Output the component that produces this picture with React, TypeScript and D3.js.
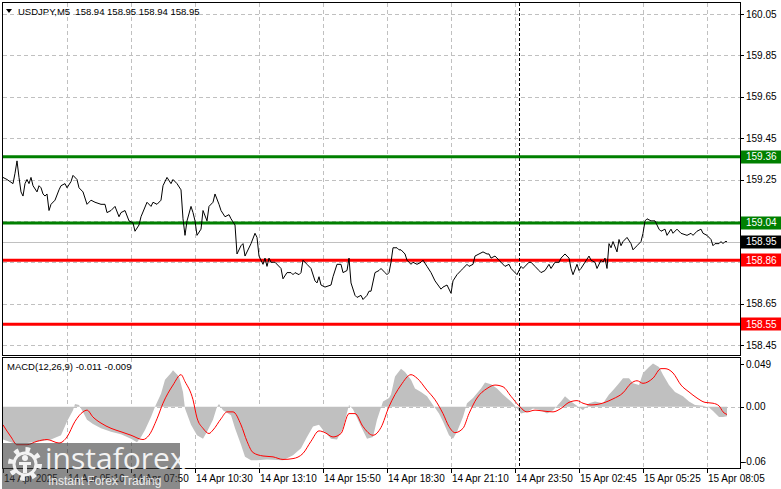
import React from "react";
import * as d3 from "d3";

const W = 781;
const H = 489;
const FONT = "'Liberation Sans', Arial, sans-serif";

// USDJPY M5 closes, [bar index, price]
const price: [number, number][] = [
  [0, 159.26], [2, 159.25], [5, 159.23], [6, 159.28], [7, 159.34], [8, 159.26], [9, 159.19], [10, 159.17],
  [11, 159.23], [12, 159.25], [13, 159.23], [14, 159.26], [15, 159.22], [17, 159.19], [18, 159.22], [19, 159.21],
  [20, 159.18], [21, 159.17], [22, 159.18], [23, 159.1], [24, 159.13], [26, 159.15], [28, 159.2], [29, 159.22],
  [31, 159.23], [32, 159.21], [34, 159.24], [35, 159.27], [37, 159.25], [38, 159.21], [40, 159.19], [42, 159.13],
  [44, 159.15], [46, 159.14], [49, 159.13], [51, 159.13], [52, 159.09], [54, 159.1], [56, 159.12], [58, 159.07],
  [59, 159.09], [61, 159.1], [63, 159.05], [65, 159.04], [66, 159.0], [68, 159.03], [69, 159.07], [72, 159.14],
  [74, 159.12], [75, 159.14], [77, 159.13], [79, 159.15], [80, 159.22], [82, 159.26], [84, 159.23], [85, 159.25],
  [87, 159.23], [89, 159.2], [90, 159.06], [91, 158.98], [92, 159.05], [94, 159.12], [95, 159.09], [96, 159.05],
  [97, 158.98], [99, 159.01], [100, 159.1], [102, 159.05], [103, 159.12], [105, 159.14], [106, 159.18], [108, 159.13],
  [109, 159.1], [111, 159.07], [113, 159.08], [114, 159.06], [116, 159.03], [117, 158.89], [119, 158.93], [120, 158.94],
  [121, 158.88], [124, 158.94], [126, 158.99], [127, 158.97], [128, 158.88], [129, 158.86], [130, 158.84], [131, 158.87],
  [132, 158.83], [133, 158.87], [134, 158.85], [136, 158.85], [139, 158.82], [140, 158.77], [142, 158.8], [144, 158.8],
  [145, 158.79], [146, 158.8], [148, 158.79], [149, 158.8], [150, 158.86], [152, 158.84], [154, 158.82], [156, 158.76],
  [157, 158.75], [158, 158.78], [159, 158.74], [161, 158.73], [164, 158.74], [165, 158.78], [167, 158.84], [169, 158.84],
  [170, 158.8], [172, 158.81], [173, 158.87], [174, 158.75], [176, 158.69], [177, 158.68], [179, 158.69], [180, 158.67],
  [182, 158.69], [183, 158.71], [184, 158.71], [186, 158.8], [188, 158.81], [189, 158.82], [191, 158.8], [192, 158.79],
  [193, 158.8], [194, 158.85], [195, 158.92], [197, 158.92], [198, 158.91], [199, 158.91], [201, 158.89], [202, 158.86],
  [204, 158.84], [205, 158.85], [207, 158.84], [209, 158.85], [210, 158.86], [212, 158.83], [214, 158.8], [216, 158.76],
  [219, 158.72], [220, 158.73], [222, 158.74], [224, 158.7], [225, 158.76], [227, 158.79], [229, 158.81], [230, 158.82],
  [232, 158.84], [233, 158.83], [235, 158.84], [236, 158.88], [238, 158.89], [240, 158.9], [242, 158.89], [243, 158.89],
  [244, 158.87], [246, 158.88], [248, 158.86], [249, 158.85], [251, 158.83], [253, 158.84], [254, 158.82], [257, 158.79],
  [259, 158.83], [260, 158.82], [263, 158.85], [264, 158.85], [266, 158.83], [268, 158.81], [269, 158.8], [271, 158.81],
  [273, 158.84], [274, 158.82], [276, 158.85], [278, 158.85], [279, 158.87], [281, 158.89], [283, 158.87], [284, 158.82],
  [285, 158.79], [287, 158.84], [288, 158.81], [289, 158.82], [291, 158.85], [293, 158.88], [294, 158.86], [296, 158.85],
  [297, 158.82], [299, 158.86], [300, 158.85], [301, 158.87], [302, 158.82], [303, 158.94], [304, 158.92], [305, 158.95],
  [307, 158.9], [308, 158.96], [309, 158.93], [310, 158.95], [312, 158.97], [314, 158.94], [315, 158.91], [317, 158.93],
  [319, 158.95], [320, 158.99], [321, 159.05], [322, 159.06], [324, 159.05], [325, 159.05], [326, 159.05], [328, 159.01],
  [329, 159.0], [331, 159.01], [332, 158.98], [334, 159.01], [335, 158.99], [337, 159.01], [339, 158.99], [342, 158.98],
  [344, 158.99], [345, 158.98], [347, 159.0], [349, 159.01], [350, 158.99], [352, 158.98], [354, 158.96], [355, 158.93],
  [356, 158.94], [358, 158.94], [359, 158.95], [360, 158.94], [361, 158.95], [362, 158.95],
];

// MACD main (histogram), [bar, value]
const macdMain: [number, number][] = [
  [0, -0.038], [5, -0.042], [12, -0.042], [19, -0.04], [24, -0.038], [29, -0.033], [32, -0.017], [35, -0.004],
  [36, 0.003], [38, 0.002], [40, -0.006], [42, -0.015], [45, -0.02], [49, -0.025], [54, -0.029], [59, -0.032],
  [64, -0.037], [67, -0.041], [69, -0.035], [71, -0.027], [74, -0.012], [76, 0.0], [79, 0.015], [81, 0.031],
  [84, 0.039], [85, 0.042], [88, 0.035], [90, 0.017], [91, -0.002], [94, -0.021], [97, -0.033], [100, -0.037],
  [102, -0.029], [105, -0.015], [107, 0.0], [108, 0.003], [110, -0.004], [114, -0.01], [116, -0.025], [119, -0.044],
  [121, -0.058], [124, -0.062], [127, -0.062], [132, -0.061], [140, -0.062], [145, -0.056], [149, -0.048], [152, -0.035],
  [155, -0.023], [158, -0.021], [160, -0.027], [164, -0.037], [167, -0.038], [170, -0.025], [173, 0.002], [175, -0.003],
  [179, -0.023], [182, -0.037], [185, -0.035], [187, -0.015], [190, 0.006], [193, 0.01], [194, 0.014], [196, 0.035],
  [199, 0.044], [201, 0.04], [204, 0.031], [206, 0.021], [209, 0.017], [212, 0.012], [215, 0.002], [218, -0.008],
  [220, -0.017], [223, -0.033], [225, -0.037], [227, -0.029], [230, -0.012], [232, 0.004], [235, 0.01], [239, 0.021],
  [241, 0.028], [244, 0.026], [247, 0.021], [250, 0.014], [254, 0.006], [256, 0.001], [259, -0.008], [262, -0.006],
  [265, -0.002], [269, -0.004], [272, -0.008], [275, -0.004], [279, 0.006], [281, 0.012], [284, 0.006], [287, 0.001],
  [290, -0.004], [293, 0.004], [296, 0.006], [300, 0.004], [303, 0.014], [305, 0.019], [308, 0.027], [310, 0.033],
  [313, 0.033], [315, 0.027], [318, 0.025], [320, 0.039], [323, 0.046], [325, 0.05], [328, 0.046], [330, 0.037],
  [333, 0.025], [336, 0.017], [340, 0.012], [343, 0.006], [346, 0.002], [350, 0.001], [353, -0.001], [355, -0.005],
  [358, -0.012], [360, -0.012], [362, -0.011],
];

// MACD signal line, [bar, value]
const macdSignal: [number, number][] = [
  [0, -0.021], [4, -0.035], [7, -0.044], [12, -0.044], [17, -0.04], [22, -0.038], [28, -0.042], [32, -0.035],
  [36, -0.017], [40, -0.006], [42, -0.004], [45, -0.012], [49, -0.019], [54, -0.025], [59, -0.029], [64, -0.033],
  [70, -0.038], [73, -0.033], [77, -0.014], [80, 0.004], [85, 0.025], [89, 0.037], [91, 0.029], [95, 0.008],
  [97, -0.013], [100, -0.025], [103, -0.031], [105, -0.027], [109, -0.014], [112, -0.006], [115, -0.006], [119, -0.021],
  [122, -0.04], [125, -0.053], [130, -0.057], [135, -0.058], [140, -0.061], [145, -0.06], [150, -0.054], [154, -0.04],
  [158, -0.028], [161, -0.03], [165, -0.035], [169, -0.031], [173, -0.008], [176, -0.008], [180, -0.023], [185, -0.033],
  [189, -0.024], [193, 0.0], [199, 0.025], [204, 0.037], [207, 0.033], [212, 0.019], [216, 0.008], [220, -0.008],
  [223, -0.023], [226, -0.03], [230, -0.025], [233, -0.008], [237, 0.01], [242, 0.021], [246, 0.025], [250, 0.023],
  [254, 0.012], [258, 0.001], [262, -0.006], [266, -0.004], [270, -0.005], [275, -0.006], [279, -0.002], [283, 0.005],
  [287, 0.007], [290, 0.004], [294, 0.002], [298, 0.003], [301, 0.005], [305, 0.009], [310, 0.016], [314, 0.027],
  [317, 0.03], [320, 0.027], [325, 0.033], [329, 0.044], [331, 0.044], [335, 0.039], [339, 0.025], [343, 0.017],
  [347, 0.01], [351, 0.005], [355, 0.004], [358, 0.001], [360, -0.006], [362, -0.009],
];

const resistanceLevels = [159.36, 159.04];
const supportLevels = [158.86, 158.55];
const bidPrice = 158.95;

const priceTicks = [160.05, 159.85, 159.65, 159.45, 159.25, 159.05, 158.85, 158.65, 158.45];
// labels hidden by the level boxes in the original
const hiddenPriceLabels = [159.05];
const macdTicks: [number, string][] = [[0.049, "0.049"], [0, "0.00"], [-0.0636, "-0.06"]];

const timeTickBars = [0, 32, 64, 96, 128, 160, 192, 224, 256, 288, 320, 352];
const timeLabels = [
  "14 Apr 2025", "14 Apr 05:10", "14 Apr 07:50", "14 Apr 10:30", "14 Apr 13:10", "14 Apr 15:50",
  "14 Apr 18:30", "14 Apr 21:10", "14 Apr 23:50", "15 Apr 02:45", "15 Apr 05:25", "15 Apr 08:05",
];
const separatorBar = 258;

const title = "USDJPY,M5  158.94 158.95 158.94 158.95";
const macdTitle = "MACD(12,26,9) -0.011 -0.009";

export default function App() {
  const left = 2.5;
  const right = 740.5;
  const mainTop = 2.5;
  const mainBottom = 355.5;
  const subTop = 357.5;
  const subBottom = 468.5;

  const x = d3.scaleLinear().domain([0, 368]).range([3, 739]);
  const y = d3.scaleLinear().domain([158.45, 160.05]).range([345, 14]);
  const ym = d3.scaleLinear().domain([-0.0636, 0.049]).range([461.7, 364.3]);

  const priceLine = d3.line<[number, number]>().x((d) => x(d[0])).y((d) => y(d[1]))(price) || "";
  const histArea =
    d3.area<[number, number]>().x((d) => x(d[0])).y0(ym(0)).y1((d) => ym(d[1]))(macdMain) || "";
  const signalLine =
    d3.line<[number, number]>().x((d) => x(d[0])).y((d) => ym(d[1])).curve(d3.curveMonotoneX)(macdSignal) || "";

  const gridBars = d3.range(32, 368, 32);
  const grid = "#c0c0c0";

  const levelLabel = (v: number, fill: string) => (
    <g key={`lv${v}`}>
      <rect x={741} y={Math.round(y(v)) - 6.5} width={40} height={13} fill={fill} />
      <text x={746} y={y(v)} dy="0.35em" fill="#fff" fontSize={10}>
        {v.toFixed(2)}
      </text>
    </g>
  );

  return (
    <svg
      width={W}
      height={H}
      style={{ position: "fixed", left: 0, top: 0, background: "#fff" }}
      fontFamily={FONT}
    >
      <defs>
        <clipPath id="mainClip">
          <rect x={left} y={mainTop} width={right - left} height={mainBottom - mainTop} />
        </clipPath>
        <clipPath id="subClip">
          <rect x={left} y={subTop} width={right - left} height={subBottom - subTop} />
        </clipPath>
      </defs>
      <rect width={W} height={H} fill="#fff" />

      {/* grid, main panel */}
      <g stroke={grid} strokeDasharray="4,3" shapeRendering="crispEdges">
        {priceTicks.map((p) => (
          <line key={`h${p}`} x1={left} x2={right} y1={Math.round(y(p)) + 0.5} y2={Math.round(y(p)) + 0.5} />
        ))}
        {gridBars.map((b) => (
          <line key={`v${b}`} x1={x(b) + 0.5} x2={x(b) + 0.5} y1={mainTop} y2={mainBottom} />
        ))}
        {gridBars.map((b) => (
          <line key={`s${b}`} x1={x(b) + 0.5} x2={x(b) + 0.5} y1={subTop} y2={subBottom} />
        ))}
        <line x1={left} x2={right} y1={Math.round(ym(0)) + 0.5} y2={Math.round(ym(0)) + 0.5} />
      </g>

      {/* bid line */}
      <line
        x1={left}
        x2={right}
        y1={Math.round(y(bidPrice)) + 0.5}
        y2={Math.round(y(bidPrice)) + 0.5}
        stroke={grid}
        shapeRendering="crispEdges"
      />

      <g clipPath="url(#mainClip)">
        {resistanceLevels.map((v) => (
          <line key={`r${v}`} x1={left} x2={right} y1={y(v)} y2={y(v)} stroke="#008000" strokeWidth={3} />
        ))}
        {supportLevels.map((v) => (
          <line key={`s${v}`} x1={left} x2={right} y1={y(v)} y2={y(v)} stroke="#ff0000" strokeWidth={3} />
        ))}
        <path d={priceLine} fill="none" stroke="#000" strokeWidth={1} />
      </g>

      <g clipPath="url(#subClip)">
        <path d={histArea} fill="#c0c0c0" />
        <path d={signalLine} fill="none" stroke="#ff0000" strokeWidth={1} />
      </g>

      {/* period separator */}
      <line
        x1={x(separatorBar) + 0.5}
        x2={x(separatorBar) + 0.5}
        y1={mainTop}
        y2={subBottom}
        stroke="#000"
        strokeDasharray="3,2"
        shapeRendering="crispEdges"
      />

      {/* frames */}
      <g fill="none" stroke="#000" shapeRendering="crispEdges">
        <rect x={left} y={mainTop} width={right - left} height={mainBottom - mainTop} />
        <rect x={left} y={subTop} width={right - left} height={subBottom - subTop} />
      </g>

      {/* titles */}
      <path d="M6,9 L12,9 L9,13 Z" fill="#000" />
      <text x={18} y={12} dy="0.35em" fontSize={9.5} fill="#000" style={{ whiteSpace: "pre" }}>
        {title}
      </text>
      <text x={7} y={367} dy="0.35em" fontSize={9.5} fill="#000">
        {macdTitle}
      </text>

      {/* price axis */}
      <g fontSize={10} fill="#000">
        {priceTicks.map((p) => (
          <g key={`pt${p}`}>
            <line x1={740} x2={744} y1={Math.round(y(p)) + 0.5} y2={Math.round(y(p)) + 0.5} stroke="#000" />
            {!hiddenPriceLabels.includes(p) && (
              <text x={746} y={y(p)} dy="0.35em">
                {p.toFixed(2)}
              </text>
            )}
          </g>
        ))}
        {macdTicks.map(([v, s]) => (
          <g key={`mt${s}`}>
            <line x1={740} x2={744} y1={Math.round(ym(v)) + 0.5} y2={Math.round(ym(v)) + 0.5} stroke="#000" />
            <text x={v < 0 ? 743 : 746} y={ym(v)} dy="0.35em">
              {s}
            </text>
          </g>
        ))}
      </g>
      {resistanceLevels.map((v) => levelLabel(v, "#008000"))}
      {levelLabel(bidPrice, "#000")}
      {supportLevels.map((v) => levelLabel(v, "#ff0000"))}

      {/* time axis */}
      <g fontSize={10} fill="#000">
        {timeTickBars.map((b, i) => (
          <g key={`tt${b}`}>
            <line x1={x(b) + 0.5} x2={x(b) + 0.5} y1={468} y2={473} stroke="#000" />
            <text x={x(b) + 1} y={482}>
              {timeLabels[i]}
            </text>
          </g>
        ))}
      </g>

      {/* watermark */}
      <g>
        <rect x={2} y={443} width={178} height={46} fill="rgb(60,60,60)" opacity={0.6} />
        <g fill="none" stroke="#fff" opacity={0.9}>
          <circle cx={25} cy={464} r={14} strokeWidth={6} strokeDasharray="4.4,6.6" />
          <circle cx={25} cy={464} r={11} strokeWidth={3} />
        </g>
        <g fill="#fff" opacity={0.9}>
          <circle cx={25} cy={458} r={3} />
          <rect x={19} y={462} width={12} height={3} />
          <rect x={23} y={462} width={4} height={11} />
        </g>
        <text x={45} y={469} fontSize={30} fill="#fff" opacity={0.9} fontFamily="'Open Sans', Arial, sans-serif">
          instaforex
        </text>
        <text x={48} y={485} fontSize={12} fill="#fff" opacity={0.85}>
          Instant Forex Trading
        </text>
      </g>
    </svg>
  );
}
